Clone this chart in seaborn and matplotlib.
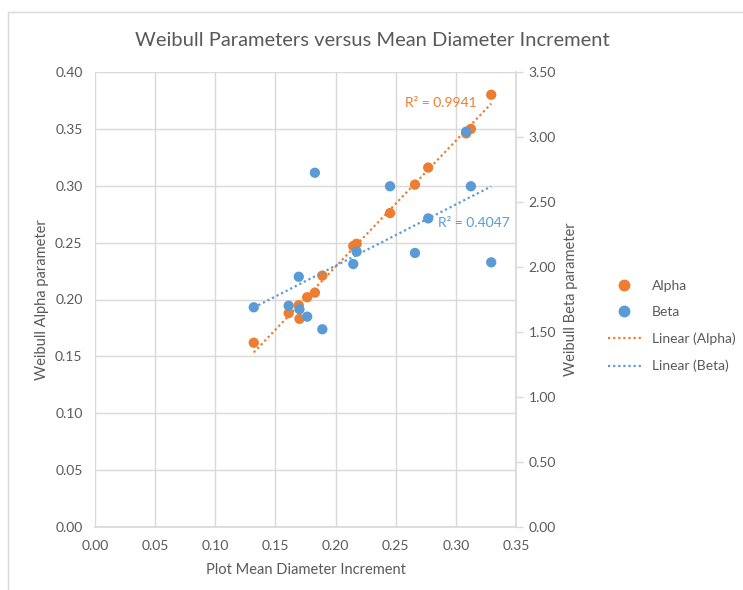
import numpy as np
import pandas as pd
import matplotlib
matplotlib.use("Agg")
import matplotlib.pyplot as plt
from matplotlib.lines import Line2D
from matplotlib.patches import Rectangle
from matplotlib.ticker import FormatStrFormatter
import seaborn as sns

# Plot mean diameter increment and fitted Weibull parameters
increment = [0.132, 0.161, 0.1694, 0.170, 0.1764, 0.1828, 0.189, 0.2147,
             0.2175, 0.2453, 0.266, 0.277, 0.3086, 0.3125, 0.3294]
alpha = [0.162, 0.188, 0.195, 0.183, 0.202, 0.206, 0.221, 0.247,
         0.249, 0.276, 0.301, 0.316, 0.346, 0.350, 0.380]
beta = [1.690, 1.702, 1.925, 1.675, 1.618, 2.725, 1.521, 2.023,
        2.118, 2.621, 2.108, 2.374, 3.041, 2.621, 2.036]

x_ticks = [0.00, 0.05, 0.10, 0.15, 0.20, 0.25, 0.30, 0.35]
alpha_ticks = [0.00, 0.05, 0.10, 0.15, 0.20, 0.25, 0.30, 0.35, 0.40]
beta_ticks = [0.00, 0.50, 1.00, 1.50, 2.00, 2.50, 3.00, 3.50]

df = pd.DataFrame({"increment": increment, "alpha": alpha, "beta": beta})

ORANGE = "#ED7D31"
BLUE = "#5B9BD5"
GRID = "#D9D9D9"
TXT = "#595959"

sns.set_theme(style="white")
plt.rcParams["font.family"] = ["Lato", "DejaVu Sans"]

fig = plt.figure(figsize=(7.43, 5.9), dpi=100)
ax = fig.add_axes([95 / 743, 63 / 590, 421 / 743, 455 / 590])
ax2 = ax.twinx()

# chart frame
fig.patches.append(Rectangle((8 / 743, -0.01), 1.0, (590 - 12) / 590 + 0.01,
                             transform=fig.transFigure, fill=False,
                             edgecolor="#D9D9D9", linewidth=1.0))

# trend lines (least squares)
sns.regplot(data=df, x="increment", y="alpha", ax=ax, scatter=False, ci=None,
            truncate=True, color=ORANGE,
            line_kws=dict(linestyle=(0, (1, 1.3)), linewidth=1.6))
sns.regplot(data=df, x="increment", y="beta", ax=ax2, scatter=False, ci=None,
            truncate=True, color=BLUE,
            line_kws=dict(linestyle=(0, (1, 1.3)), linewidth=1.6))

sns.scatterplot(data=df, x="increment", y="alpha", ax=ax, color=ORANGE,
                s=55, edgecolor="none", zorder=3)
sns.scatterplot(data=df, x="increment", y="beta", ax=ax2, color=BLUE,
                s=55, edgecolor="none", zorder=3)

ax.set_xlim(0, 0.35)
ax.set_ylim(0, 0.40)
ax2.set_ylim(0, 3.5)
ax.set_xticks(x_ticks)
ax.set_yticks(alpha_ticks)
ax2.set_yticks(beta_ticks)
ax.xaxis.set_major_formatter(FormatStrFormatter("%.2f"))
ax.yaxis.set_major_formatter(FormatStrFormatter("%.2f"))
ax2.yaxis.set_major_formatter(FormatStrFormatter("%.2f"))

ax.grid(True, color=GRID, linewidth=1.0)
ax.set_axisbelow(True)
for s in ["left", "top", "right"]:
    ax.spines[s].set_visible(False)
ax.spines["bottom"].set_color(GRID)
for s in ["left", "top", "bottom"]:
    ax2.spines[s].set_visible(False)
ax2.spines["right"].set_color(GRID)

ax.tick_params(axis="both", colors=TXT, labelsize=10, length=0, pad=9)
ax2.tick_params(axis="y", colors=GRID, labelcolor=TXT, labelsize=10,
                length=5, width=1, direction="out", pad=4, right=True)

ax.set_xlabel("Plot Mean Diameter Increment", color=TXT, fontsize=10.5, labelpad=8)
ax.set_ylabel("Weibull Alpha parameter", color=TXT, fontsize=10.5, labelpad=4)
ax2.set_ylabel("Weibull Beta parameter", color=TXT, fontsize=10.5, labelpad=6)

fig.text(372 / 743, 1 - 40 / 590, "Weibull Parameters versus Mean Diameter Increment",
         ha="center", va="center", fontsize=14.5, color=TXT)

ax.text(0.2875, 0.3725, "R² = 0.9941", color=ORANGE, fontsize=10, ha="center", va="center")
ax2.text(0.315, 2.338, "R² = 0.4047", color=BLUE, fontsize=10, ha="center", va="center")

handles = [
    Line2D([], [], marker="o", color=ORANGE, linestyle="none", markersize=7.5),
    Line2D([], [], marker="o", color=BLUE, linestyle="none", markersize=7.5),
    Line2D([], [], color=ORANGE, linestyle=(0, (1, 1.3)), linewidth=1.6),
    Line2D([], [], color=BLUE, linestyle=(0, (1, 1.3)), linewidth=1.6),
]
labels = ["Alpha", "Beta", "Linear (Alpha)", "Linear (Beta)"]
leg = fig.legend(handles, labels, loc="center left",
                 bbox_to_anchor=(595 / 743, 1 - 326 / 590), frameon=False,
                 fontsize=10, labelspacing=1.05, handlelength=2.4,
                 handletextpad=0.8)
for t in leg.get_texts():
    t.set_color(TXT)

fig.savefig("out.png", dpi=100)
